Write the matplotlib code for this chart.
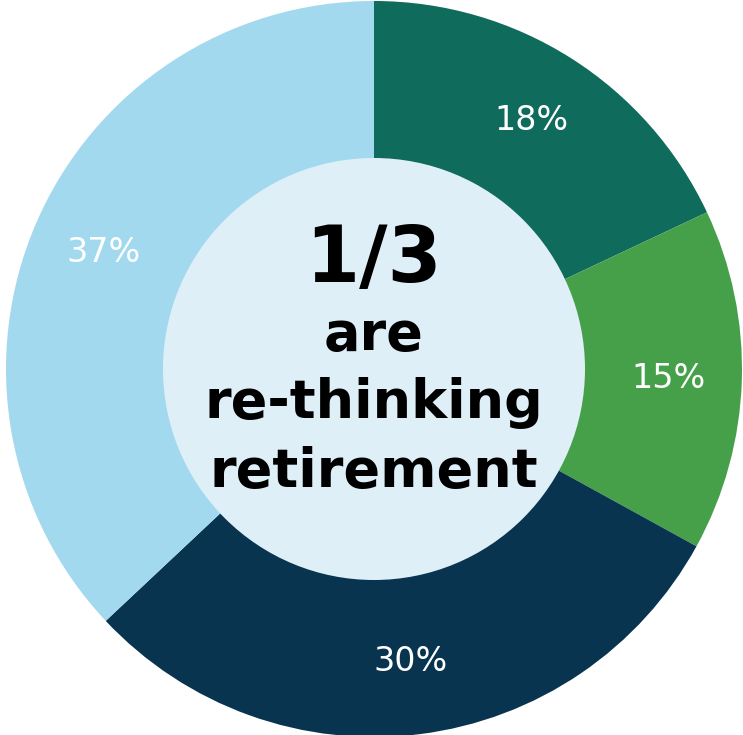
import matplotlib.pyplot as plt
from matplotlib.patches import Circle

# slice data, clockwise from 12 o'clock
shares = [18, 15, 30, 37]
colors = ['#0f6b5b', '#46a04a', '#08344f', '#a2d9ef']
headline = '1/3'
caption = ['are', 're-thinking', 'retirement']

W, H = 743, 735
fig = plt.figure(figsize=(W / 100, H / 100), dpi=100)
ax = fig.add_axes([0, 0, 1, 1])

cx, cy = 374, H - 369
r_out, r_in = 368, 211

wedges, texts, autotexts = ax.pie(
    shares, colors=colors, startangle=90, counterclock=False,
    center=(cx, cy), radius=r_out, autopct='%d%%', pctdistance=0.80,
    textprops=dict(color='white', fontsize=24, family='DejaVu Sans'),
    wedgeprops=dict(linewidth=0), frame=True)
ax.set_xlim(0, W)
ax.set_ylim(0, H)
ax.set_aspect('equal')
ax.axis('off')

# inner disc
ax.add_patch(Circle((cx, cy), r_in, facecolor='#dfeff8', edgecolor='none', zorder=3))

ax.text(cx, H - 282, headline, ha='center', va='baseline', fontsize=56,
        fontweight='bold', family='DejaVu Sans', color='black', zorder=4)
baselines = [350, 418, 487]
for line, b in zip(caption, baselines):
    ax.text(cx, H - b, line, ha='center', va='baseline', fontsize=39,
            fontweight='bold', family='DejaVu Sans', color='black', zorder=4)

fig.savefig('out.png', dpi=100)
